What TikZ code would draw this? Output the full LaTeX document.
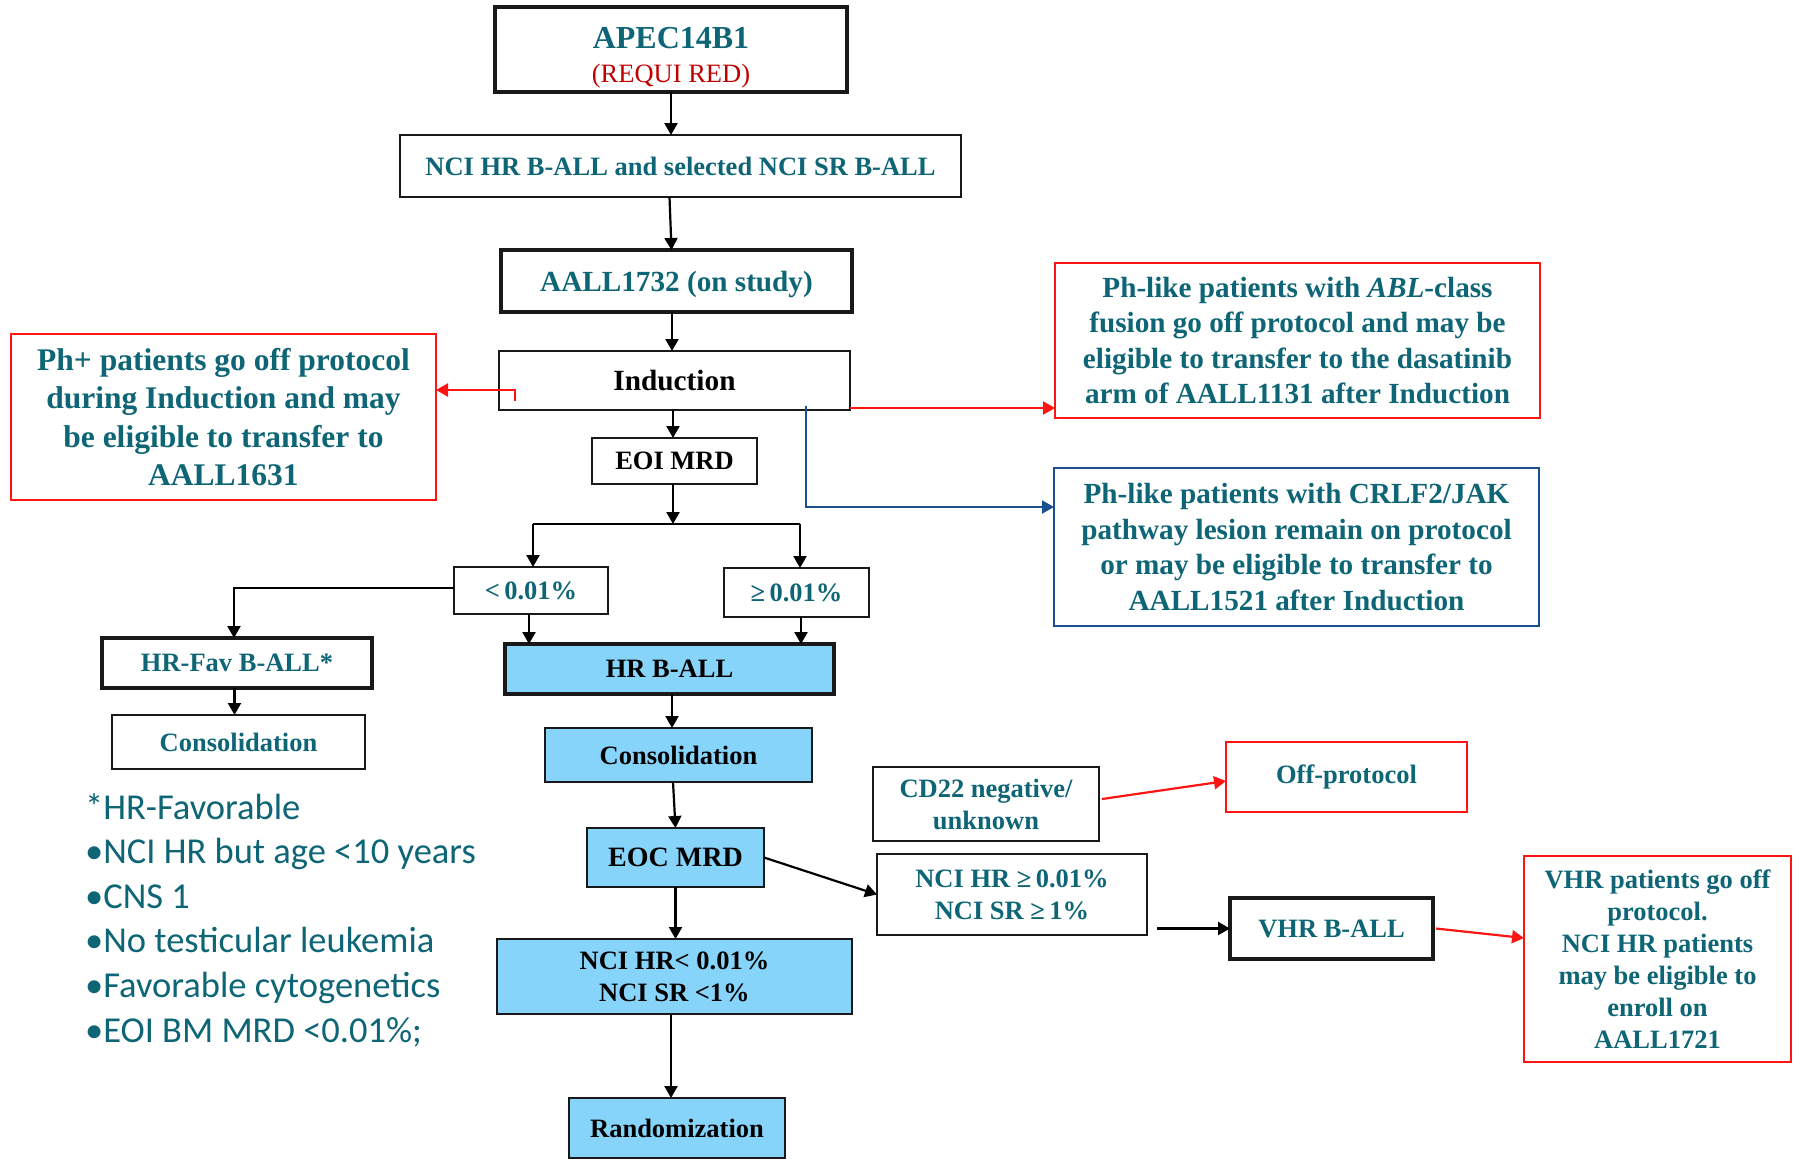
\documentclass[tikz,border=0pt]{standalone}
\usepackage{fontspec}
\setmainfont{Liberation Serif}
\newfontfamily\legendfont{Carlito}
\usetikzlibrary{arrows.meta,calc}
\definecolor{tealtxt}{HTML}{0D6575}
\definecolor{redtxt}{HTML}{C00000}
\definecolor{skyfill}{HTML}{87D4FB}
\definecolor{redline}{HTML}{FF1414}
\definecolor{blueline}{HTML}{1B4F8E}
\begin{document}
\begin{tikzpicture}[x=1pt,y=-1pt,
  box/.style={draw=black!90, line width=2pt, inner sep=0pt, outer sep=0pt, align=center,
    font=\bfseries\fontsize{26.5}{32}\selectfont, text=tealtxt},
  sz/.style 2 args={minimum width=#1pt, minimum height=#2pt},
  thickbox/.style={box, line width=4.5pt},
  skybox/.style={box, fill=skyfill, text=black},
  redbox/.style={box, draw=redline},
  bluebox/.style={box, draw=blueline},
  blk/.style={text=black},
  plainline/.style={line width=2.2pt, draw=black},
  conn/.style={line width=2.2pt, draw=black, -{Triangle[length=12pt,width=13pt]}},
  redconn/.style={conn, draw=redline},
  blueconn/.style={conn, draw=blueline},
  legend/.style={anchor=base west, inner sep=0pt, text=tealtxt, font=\legendfont\fontsize{36.5}{44}\selectfont}
]
\useasboundingbox (0,0) rectangle (1793,1160);

% main column
\node[thickbox, sz={352}{85}] (apec) at (671,49.5)
  {\rule{0pt}{38pt}\fontsize{32}{35}\selectfont APEC14B1\\[2pt]{\mdseries\color{redtxt}\fontsize{26.5}{30}\selectfont (REQUI RED)}};
\node[box, sz={561}{62}] (nci) at (680.5,166) {NCI HR B-ALL and selected NCI SR B-ALL};
\node[thickbox, sz={351}{62}, text depth=0pt, font=\bfseries\fontsize{29.2}{34}\selectfont] (aall) at (676.5,281) {AALL1732 (on study)};
\node[box, blk, sz={351}{59}, font=\bfseries\fontsize{29.3}{34}\selectfont] (ind) at (674.5,380.5) {Induction};
\node[box, blk, sz={165}{46}] (eoi) at (674.5,461) {EOI MRD};
\node[box, sz={154}{47}] (lt) at (531,590.5) {<\,0.01\%};
\node[box, sz={145}{49}] (ge) at (796.5,592.5) {≥\,0.01\%};
\node[box, line width=4pt, sz={270}{50}] (fav) at (237,663) {HR-Fav B-ALL*};
\node[box, sz={253}{54}] (consl) at (238.5,742) {Consolidation};
\node[skybox, line width=4.5pt, sz={329}{50}] (hr) at (669.5,669) {HR B-ALL};
\node[skybox, sz={267}{54}] (consb) at (678.5,755) {Consolidation};
\node[skybox, sz={177}{59}, font=\bfseries\fontsize{28}{33}\selectfont] (eoc) at (675.5,857.5) {EOC MRD};
\node[skybox, sz={355}{75}] (low) at (674.5,976.5) {NCI HR< 0.01\%\\NCI SR <1\%};
\node[skybox, sz={216}{60}] (rand) at (677,1128) {Randomization};

% side boxes
\node[redbox, sz={425}{166}, font=\bfseries\fontsize{31.5}{38.5}\selectfont] (php) at (223.5,417)
  {Ph+ patients go off protocol\\during Induction and may\\be eligible to transfer to\\AALL1631};
\node[redbox, sz={485}{155}, font=\bfseries\fontsize{29.2}{35.4}\selectfont] (abl) at (1297.5,340.5)
  {Ph-like patients with \textit{ABL}-class\\fusion go off protocol and may be\\eligible to transfer to the dasatinib\\arm of AALL1131 after Induction};
\node[bluebox, sz={485}{158}, font=\bfseries\fontsize{29.2}{35.4}\selectfont] (crlf) at (1296.5,547)
  {Ph-like patients with CRLF2/JAK\\pathway lesion remain on protocol\\or may be eligible to transfer to\\AALL1521 after Induction};
\node[box, sz={226}{74}] (cd22) at (986,804) {CD22 negative/\\unknown};
\node[redbox, sz={241}{70}] (off) at (1346.5,777) {Off-protocol};
\node[box, sz={270}{81}] (vhrc) at (1012,894.5) {NCI HR ≥\,0.01\%\\NCI SR ≥\,1\%};
\node[thickbox, sz={203}{61}] (vhr) at (1331.5,928.5) {VHR B-ALL};
\node[redbox, sz={267}{206}, font=\bfseries\fontsize{26.5}{32}\selectfont] (vhrp) at (1657.5,959)
  {VHR patients go off\\protocol.\\NCI HR patients\\may be eligible to\\enroll on\\AALL1721};

% legend
\node[legend] (l1) at (85,819) {*HR-Favorable};
\node[legend] (l2) at (85,863.6) {•NCI HR but age <10 years};
\node[legend] (l3) at (85,908.2) {•CNS 1};
\node[legend] (l4) at (85,952.8) {•No testicular leukemia};
\node[legend] (l5) at (85,997.4) {•Favorable cytogenetics};
\node[legend] (l6) at (85,1042) {•EOI BM MRD <0.01\%;};

% connectors
\draw[conn] (apec.south) -- (apec.south |- nci.north);
\draw[conn] ($(nci.south)+(-11,0)$) -- ($(aall.north)+(-5,0)$);
\draw[conn] ($(aall.south)+(-4.5,0)$) -- ($(ind.north)+(-2.5,0)$);
\draw[conn] ($(ind.south)+(-1.5,0)$) -- ($(eoi.north)+(-1.5,0)$);
\coordinate (jc) at (673,524);
\coordinate (jl) at (533,524);
\coordinate (jr) at (800,524);
\draw[conn] ($(eoi.south)+(-1.5,0)$) -- (jc);
\draw[plainline] (jl) -- (jr);
\draw[conn] (jl) -- (jl |- lt.north);
\draw[conn] (jr) -- (jr |- ge.north);
\draw[conn] ($(lt.west)+(0,-2.5)$) -| ($(fav.north)+(-3,0)$);
\coordinate (a1) at ($(lt.south)+(-2,0)$);
\draw[conn] (a1) -- (a1 |- hr.north);
\coordinate (a2) at ($(ge.south)+(4.5,0)$);
\draw[conn] (a2) -- (a2 |- hr.north);
\coordinate (a3) at ($(fav.south)+(-2.5,0)$);
\draw[conn] (a3) -- (a3 |- consl.north);
\coordinate (a4) at ($(hr.south)+(2.5,0)$);
\draw[conn] (a4) -- (a4 |- consb.north);
\draw[conn] ($(consb.south)+(-5.5,0)$) -- (eoc.north);
\draw[conn] (eoc.south) -- (eoc.south |- low.north);
\coordinate (a5) at ($(low.south)+(-3.5,0)$);
\draw[conn] (a5) -- (a5 |- rand.north);
\draw[conn] (eoc.east) -- (vhrc.west);
\draw[conn] ($(vhrc.east |- vhr.west)+(10,0)$) -- (vhr.west);

\draw[redconn] ($(cd22.east)+(3,-5)$) -- ($(off.west)+(0,4)$);
\draw[redconn] ($(vhr.east)+(3,0)$) -- ($(vhrp.west)+(0,-21)$);
\draw[redconn] ($(ind.south east)+(0,-2)$) -- ($(ind.south east -| abl.west)+(0,-2)$);
\draw[redconn] ($(ind.south west)+(16,-9)$) |- ($(php.east)+(0,-27)$);
\draw[blueconn] ($(ind.south)+(131.5,-4)$) |- ($(crlf.west)+(0,-40)$);
\end{tikzpicture}
\end{document}
